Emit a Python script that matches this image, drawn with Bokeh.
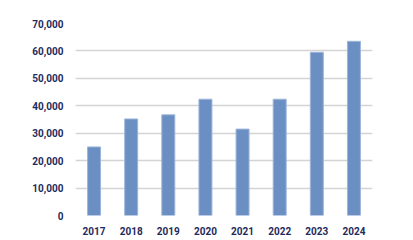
from bokeh.plotting import figure
from bokeh.models import ColumnDataSource, NumeralTickFormatter, FixedTicker, Range1d
from bokeh.embed import file_html
from bokeh.resources import INLINE

years = ["2017", "2018", "2019", "2020", "2021", "2022", "2023", "2024"]
values = [25000, 35200, 36700, 42400, 31500, 42400, 59500, 63500]
y_ticks = [0, 10000, 20000, 30000, 40000, 50000, 60000, 70000]

src = ColumnDataSource(data=dict(year=years, value=values))

p = figure(width=413, height=240, x_range=years, y_range=Range1d(0, 70000),
           output_backend="svg", toolbar_location=None,
           min_border_left=75, min_border_right=41, min_border_top=23, min_border_bottom=25)
p.outline_line_color = None
p.background_fill_color = "white"
p.border_fill_color = "white"

p.vbar(x="year", top="value", width=0.35, source=src,
       fill_color="#6b8fc2", line_color="#9db5da", line_width=1)

p.yaxis.ticker = FixedTicker(ticks=y_ticks)
p.yaxis.formatter = NumeralTickFormatter(format="0,0")
for ax in (p.xaxis, p.yaxis):
    ax.axis_line_color = None
    ax.major_tick_line_color = None
    ax.minor_tick_line_color = None
    ax.major_label_text_color = "#1f2b5c"
    ax.major_label_text_font = "Roboto"
    ax.major_label_text_font_style = "bold"
    ax.major_label_text_font_size = "10px"
p.yaxis.major_label_standoff = 6
p.xaxis.major_label_standoff = 5

p.xgrid.grid_line_color = None
p.ygrid.grid_line_color = "#d4d4d4"
p.ygrid.grid_line_width = 1.5
p.ygrid.ticker = FixedTicker(ticks=y_ticks)

open("out.html", "w").write(file_html(p, INLINE))
